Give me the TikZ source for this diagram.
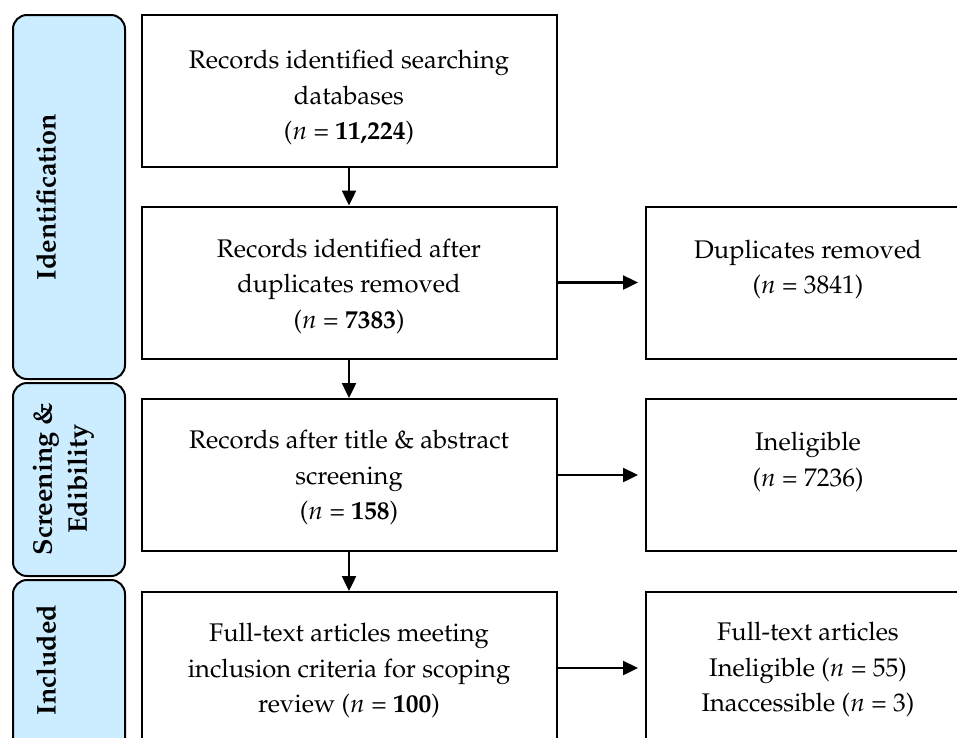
\documentclass[tikz,border=0pt]{standalone}
\usepackage[T1]{fontenc}
\usepackage{mathpazo}
\usetikzlibrary{arrows.meta}
\definecolor{panelblue}{RGB}{204,236,255}
\newcommand\lowerby[1]{\rule{0pt}{\dimexpr 18pt+2\dimexpr #1\relax\relax}}
\tikzset{
  box/.style={draw=black, line width=2pt, align=center, inner sep=0pt,
    minimum height=152pt, font=\fontsize{25.5}{35.5}\selectfont},
  leftbox/.style={box, minimum width=415pt},
  rightbox/.style={box, minimum width=324pt},
  panel/.style={draw=black, fill=panelblue, line width=2pt, rounded corners=14pt},
  paneltext/.style={rotate=90, align=center, inner sep=0pt,
    font=\fontsize{27}{35}\selectfont\bfseries},
  flow/.style={line width=2.4pt, -{Triangle[length=15pt,width=14pt]}},
}
\begin{document}
\begin{tikzpicture}[x=1pt,y=-1pt]
\path[use as bounding box] (0,0) rectangle (957,737);
\clip (0,0) rectangle (957,737);
% side panels
\draw[panel] (13,15) rectangle (125,379);
\draw[panel] (13,383) rectangle (125,576);
\draw[panel] (13,580) rectangle (125,780);
\node[paneltext] (pid) at (46,197) {Identification};
\node[paneltext] (pscr) at (63.5,479) {Screening \&\\Edibility};
\node[paneltext] (pinc) at (46,660) {Included};
% left column
\node[leftbox] (b1) at (349,91) {\lowerby{7pt}Records identified searching\\databases\\($n$ = \textbf{11,224})};
\node[leftbox] (b2) at (349,282.5) {\lowerby{4pt}Records identified after\\duplicates removed\\($n$ = \textbf{7383})};
\node[leftbox] (b3) at (349,475) {\lowerby{3pt}Records after title \& abstract\\screening\\($n$ = \textbf{158})};
\node[leftbox] (b4) at (349,668) {\lowerby{3pt}Full-text articles meeting\\inclusion criteria for scoping\\review ($n$ = \textbf{100})};
% right column
\node[rightbox] (r2) at (808,282.5) {\lowerby{2pt}Duplicates removed\\($n$ = 3841)\\\mbox{}};
\node[rightbox] (r3) at (808,475) {\lowerby{2pt}Ineligible\\($n$ = 7236)\\\mbox{}};
\node[rightbox] (r4) at (808,668) {\lowerby{2pt}Full-text articles\\Ineligible ($n$ = 55)\\Inaccessible ($n$ = 3)};
% connectors
\draw[flow] (b1.south) -- (b2.north);
\draw[flow] (b2.south) -- (b3.north);
\draw[flow] (b3.south) -- (b4.north);
\draw[flow, shorten >=7pt] (b2.east) -- (r2.west);
\draw[flow, shorten >=7pt] (b3.east) -- (r3.west);
\draw[flow, shorten >=7pt] (b4.east) -- (r4.west);
\end{tikzpicture}
\end{document}
